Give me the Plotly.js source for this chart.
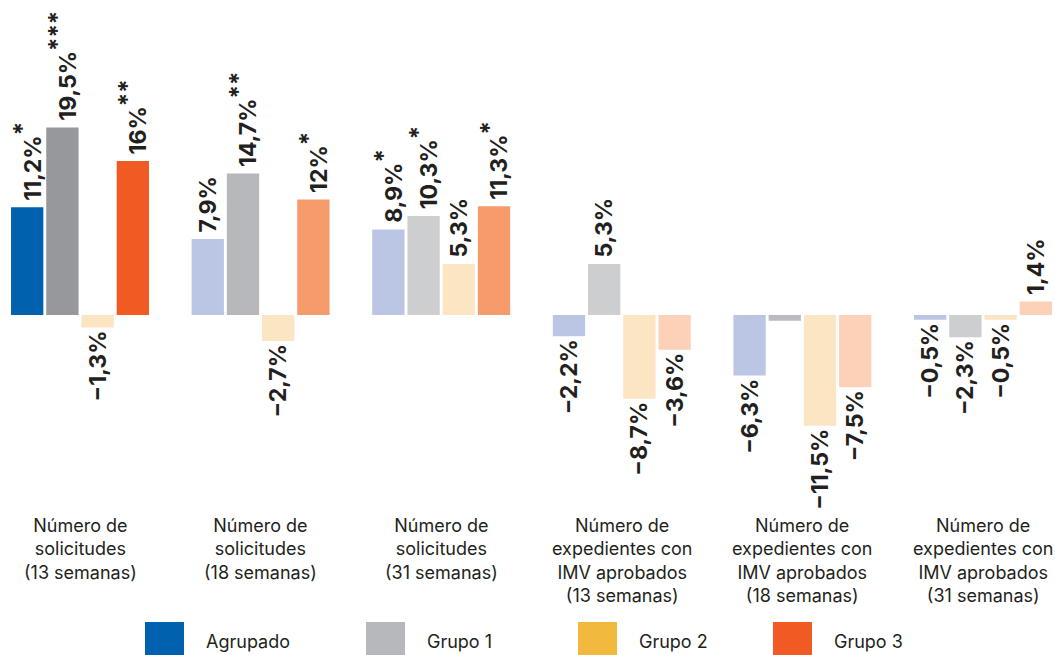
<!DOCTYPE html>
<html><head><meta charset="utf-8">
<script src="https://cdn.plot.ly/plotly-3.0.1.min.js"></script>
<style>body{margin:0;background:#fff;} #chart{width:1055px;height:655px;}</style>
</head><body><div id="chart"></div>
<script>
// ---- data ----
const categories = [
  "Número de<br>solicitudes<br>(13 semanas)",
  "Número de<br>solicitudes<br>(18 semanas)",
  "Número de<br>solicitudes<br>(31 semanas)",
  "Número de<br>expedientes con<br>IMV aprobados<br>(13 semanas)",
  "Número de<br>expedientes con<br>IMV aprobados<br>(18 semanas)",
  "Número de<br>expedientes con<br>IMV aprobados<br>(31 semanas)"
];
const seriesNames = ["Agrupado", "Grupo 1", "Grupo 2", "Grupo 3"];
const agrupado = [11.2, 7.9, 8.9, -2.2, -6.3, -0.5];
const grupo1   = [19.5, 14.7, 10.3, 5.3, -0.6, -2.3];
const grupo2   = [-1.3, -2.7, 5.3, -8.7, -11.5, -0.5];
const grupo3   = [16, 12, 11.3, -3.6, -7.5, 1.4];
// significance marks (null = no label drawn)
const starsAgrupado = ["*", "", "*", "", "", ""];
const starsGrupo1   = ["***", "**", "*", "", null, ""];
const starsGrupo2   = ["", "", "", "", "", ""];
const starsGrupo3   = ["**", "*", "*", "", "", ""];

// ---- styles ----
const colorsAgrupado = ["#0061ae", "#bac6e4", "#bac6e4", "#bac6e4", "#bac6e4", "#bac6e4"];
const colorsGrupo1   = ["#97989c", "#b7b8bb", "#cdcecf", "#cdcecf", "#bbbcc0", "#cdcecf"];
const colorsGrupo2   = ["#fbe5c3", "#fbe5c3", "#fbe5c3", "#fbe5c3", "#fbe5c3", "#fbe5c3"];
const colorsGrupo3   = ["#f15a22", "#f69b6b", "#f69b6b", "#fcd1b8", "#fcd1b8", "#fcd1b8"];
const legendColors   = ["#0061ae", "#b7b8bb", "#f1b93e", "#f15a22"];

const fmt = (v, s) => {
  if (s === null) return "";
  const num = (v < 0 ? "−" : "\u2009") + String(Math.abs(v)).replace(".", ",") + "%";
  return s ? num + "<sup><span style=\"font-size:24px\">" + s + "</span></sup>" : num;
};

const values = [agrupado, grupo1, grupo2, grupo3];
const stars = [starsAgrupado, starsGrupo1, starsGrupo2, starsGrupo3];
const colors = [colorsAgrupado, colorsGrupo1, colorsGrupo2, colorsGrupo3];
const FONT = "Inter, 'DejaVu Sans', sans-serif";

const traces = values.map((vals, i) => ({
  type: "bar",
  name: seriesNames[i],
  x: categories,
  y: vals,
  marker: { color: colors[i] },
  text: vals.map((v, j) => fmt(v, stars[i][j])),
  textposition: "outside",
  textangle: -90,
  constraintext: "none",
  cliponaxis: false,
  textfont: { family: FONT, size: 23, color: "#231f20", weight: 700 },
  hoverinfo: "skip",
  showlegend: false
}));

// ---- layout ----
const W = 1055, H = 655;
const zeroPx = 315, pxPerUnit = 9.62;
const yRange = [-(H - zeroPx) / pxPerUnit, zeroPx / pxPerUnit];
const xUnit = 180.6, firstCenter = 80;
const xRange = [-firstCenter / xUnit, (W - firstCenter) / xUnit];

const annotations = categories.map(c => ({
  x: c, xref: "x",
  y: -(513 - zeroPx) / pxPerUnit, yref: "y",
  yanchor: "top", xanchor: "center",
  text: c, showarrow: false, align: "center",
  font: { family: FONT, size: 18, color: "#231f20" }
}));

const legendSquareX = [145, 366, 578, 773];
const shapes = [];
seriesNames.forEach((n, i) => {
  shapes.push({
    type: "rect", xref: "paper", yref: "paper",
    x0: legendSquareX[i] / W, x1: (legendSquareX[i] + 39) / W,
    y0: 1 - 622 / H, y1: 1 - 662 / H,
    fillcolor: legendColors[i], line: { width: 0 }
  });
  annotations.push({
    xref: "paper", yref: "paper",
    x: (legendSquareX[i] + 59) / W, y: 1 - 641 / H,
    xanchor: "left", yanchor: "middle",
    text: n, showarrow: false,
    font: { family: FONT, size: 18, color: "#231f20" }
  });
});

const layout = {
  width: W, height: H,
  margin: { l: 0, r: 0, t: 0, b: 0 },
  paper_bgcolor: "#fff", plot_bgcolor: "#fff",
  barmode: "group", bargap: 0.22, bargroupgap: 0.083,
  xaxis: { range: xRange, showticklabels: false, showgrid: false, zeroline: false, showline: false, ticks: "" },
  yaxis: { range: yRange, showticklabels: false, showgrid: false, zeroline: false, showline: false, ticks: "" },
  annotations: annotations,
  shapes: shapes,
  showlegend: false
};

Plotly.newPlot("chart", traces, layout, { displayModeBar: false, staticPlot: true });
</script>
</body></html>
